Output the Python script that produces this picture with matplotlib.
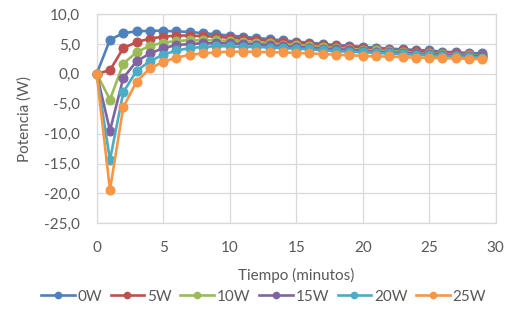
import matplotlib
matplotlib.use("Agg")
import matplotlib.pyplot as plt
from matplotlib.lines import Line2D
from matplotlib.ticker import FuncFormatter, MultipleLocator

# ==========================================
# DATA
# ==========================================
minutes = list(range(30))

p_0w = [0, 5.7, 6.8, 7.1, 7.2, 7.2, 7.1, 7.0, 6.8, 6.6, 6.4, 6.2, 6.0, 5.8, 5.6,
        5.4, 5.2, 5.0, 4.8, 4.7, 4.5, 4.4, 4.2, 4.1, 4.0, 3.9, 3.7, 3.6, 3.5, 3.4]
p_5w = [0, 0.6, 4.3, 5.3, 5.9, 6.2, 6.4, 6.4, 6.3, 6.2, 6.0, 5.9, 5.7, 5.5, 5.3,
        5.2, 5.0, 4.8, 4.6, 4.5, 4.3, 4.2, 4.0, 3.9, 3.8, 3.7, 3.5, 3.4, 3.3, 3.2]
p_10w = [0, -4.3, 1.7, 3.6, 4.7, 5.2, 5.5, 5.6, 5.6, 5.6, 5.5, 5.4, 5.2, 5.1, 4.9,
         4.8, 4.6, 4.5, 4.3, 4.2, 4.0, 3.9, 3.8, 3.7, 3.5, 3.4, 3.3, 3.2, 3.1, 3.0]
p_15w = [0, -9.5, -0.7, 2.1, 3.4, 4.3, 4.8, 5.0, 5.1, 5.1, 5.1, 5.0, 4.9, 4.8, 4.6,
         4.5, 4.4, 4.2, 4.1, 4.0, 3.8, 3.7, 3.6, 3.5, 3.4, 3.3, 3.2, 3.1, 3.0, 2.9]
p_20w = [0, -14.4, -3.1, 0.5, 2.1, 3.2, 3.9, 4.3, 4.5, 4.6, 4.6, 4.5, 4.5, 4.4, 4.3,
         4.2, 4.1, 3.9, 3.8, 3.7, 3.6, 3.5, 3.4, 3.3, 3.2, 3.1, 3.0, 2.9, 2.8, 2.7]
p_25w = [0, -19.4, -5.6, -1.3, 0.9, 2.0, 2.7, 3.2, 3.4, 3.6, 3.7, 3.7, 3.7, 3.6, 3.6,
         3.5, 3.4, 3.3, 3.2, 3.1, 3.0, 2.9, 2.9, 2.8, 2.7, 2.7, 2.6, 2.6, 2.5, 2.45]

labels = ["0W", "5W", "10W", "15W", "20W", "25W"]
colors = ["#4F81BD", "#C0504D", "#9BBB59", "#8064A2", "#4BACC6", "#F79646"]

# ==========================================
# PLOT
# ==========================================
plt.rcParams["font.family"] = ["Lato", "DejaVu Sans"]
TXT = "#595959"
GRID = "#D9D9D9"

fig = plt.figure(figsize=(5.22, 3.26), dpi=100)
ax = fig.add_axes([0.1852, 0.315, 0.7644, 0.642])

for series, lab, col in zip([p_0w, p_5w, p_10w, p_15w, p_20w, p_25w], labels, colors):
    ax.plot(minutes, series, color=col, lw=1.9, marker="o", ms=6.2,
            label=lab, solid_joinstyle="round", clip_on=False, zorder=3)

ax.set_xlim(0, 30)
ax.set_ylim(-25, 10)
ax.xaxis.set_major_locator(MultipleLocator(5))
ax.yaxis.set_major_locator(MultipleLocator(5))
ax.yaxis.set_major_formatter(FuncFormatter(lambda v, p: f"{v:.1f}".replace(".", ",")))
ax.grid(True, color=GRID, lw=0.9)
ax.set_axisbelow(True)
for s in ax.spines.values():
    s.set_color(GRID)
    s.set_linewidth(0.9)
ax.tick_params(length=0, labelsize=11, colors=TXT)
ax.tick_params(axis="y", pad=12)
ax.tick_params(axis="x", pad=13)

ax.set_xlabel("Tiempo (minutos)", fontsize=11, color=TXT, labelpad=9)
ax.set_ylabel("Potencia (W)", fontsize=11, color=TXT, labelpad=9)

handles = [Line2D([], [], color=c, lw=1.9, marker="o", ms=4.5) for c in colors]
fig.legend(handles, labels, loc="center", bbox_to_anchor=(0.505, 0.09), ncol=6,
           frameon=False, fontsize=11, labelcolor=TXT, handlelength=2.2,
           handletextpad=0.2, columnspacing=0.55)

fig.savefig("out.png", dpi=100)
